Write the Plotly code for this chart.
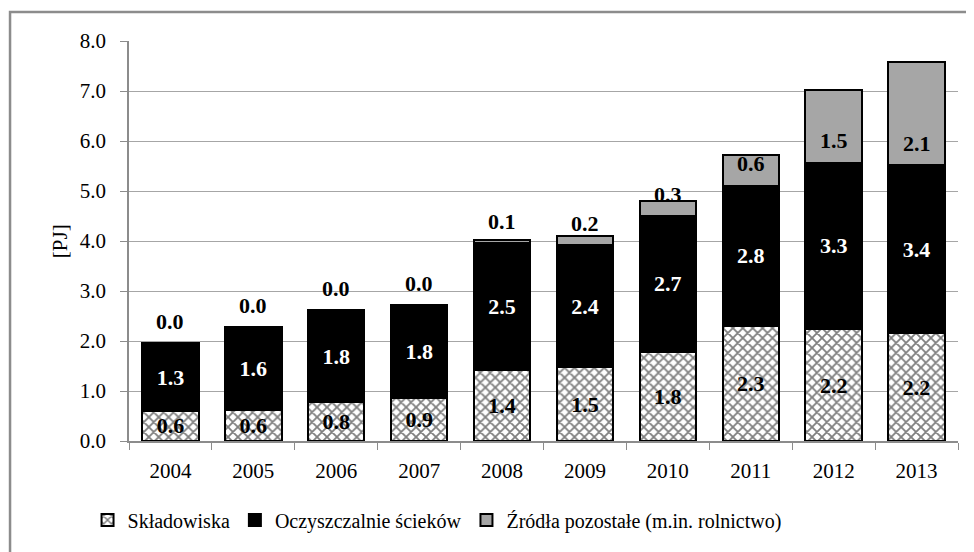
import plotly.graph_objects as go

years = ["2004", "2005", "2006", "2007", "2008", "2009", "2010", "2011", "2012", "2013"]
skladowiska = [0.61, 0.63, 0.78, 0.87, 1.42, 1.48, 1.79, 2.31, 2.24, 2.16]
oczyszczalnie = [1.34, 1.64, 1.83, 1.84, 2.54, 2.44, 2.71, 2.80, 3.33, 3.36]
zrodla = [0.02, 0.01, 0.01, 0.01, 0.06, 0.19, 0.30, 0.61, 1.46, 2.06]
names = ["Składowiska", "Oczyszczalnie ścieków", "Źródła pozostałe (m.in. rolnictwo)"]
y_ticks = [0, 1, 2, 3, 4, 5, 6, 7, 8]

FONT = "Liberation Serif"
LBL = 22

fig = go.Figure()
fig.add_trace(go.Bar(
    x=years, y=skladowiska, name=names[0],
    marker=dict(color="white", line=dict(color="black", width=2),
                pattern=dict(shape="x", fgcolor="black", bgcolor="white", size=7, solidity=0.45)),
    text=[f"{v:.1f}" for v in skladowiska], textposition="inside", insidetextanchor="middle",
    textfont=dict(family=FONT, size=LBL, color="black", weight="bold"),
    constraintext="none",
))
fig.add_trace(go.Bar(
    x=years, y=oczyszczalnie, name=names[1],
    marker=dict(color="black", line=dict(color="black", width=2)),
    text=[f"{v:.1f}" for v in oczyszczalnie], textposition="inside", insidetextanchor="middle",
    textfont=dict(family=FONT, size=LBL, color="white", weight="bold"),
    constraintext="none",
))
fig.add_trace(go.Bar(
    x=years, y=zrodla, name=names[2],
    marker=dict(color="#a6a6a6", line=dict(color="black", width=2)),
))

# labels of the top segment: placed just above the segment's base (as in the original)
for i in range(len(years)):
    base = skladowiska[i] + oczyszczalnie[i]
    fig.add_annotation(x=i, y=base, yref="y", xref="x", text=f"{zrodla[i]:.1f}",
                       showarrow=False, yanchor="middle", yshift=22,
                       font=dict(family=FONT, size=LBL, color="black", weight="bold"))

# y axis title
fig.add_annotation(x=-0.083, y=0.5, xref="paper", yref="paper", text="[PJ]", textangle=-90,
                   xanchor="center", yanchor="middle",
                   showarrow=False, font=dict(family=FONT, size=21, color="black"))

# outer frame
fig.add_shape(type="rect", xref="paper", yref="paper", x0=-0.1435, y0=-0.3, x1=1.05, y1=1.0725,
              line=dict(color="#8c8c8c", width=2.5), fillcolor="rgba(0,0,0,0)", layer="below")

fig.update_layout(
    width=974, height=552,
    margin=dict(l=121, r=24, t=33, b=119),
    barmode="stack", bargap=0.32,
    plot_bgcolor="white", paper_bgcolor="white",
    font=dict(family=FONT, size=20, color="black"),
    showlegend=True,
    legend=dict(orientation="h", x=-0.05, xanchor="left", y=-0.1975, yanchor="middle",
                traceorder="normal", font=dict(family=FONT, size=20, color="black"),
                bgcolor="rgba(0,0,0,0)"),
    xaxis=dict(type="category", range=[-0.5, len(years) - 0.5], showline=True,
               linecolor="#8c8c8c", linewidth=1.5, ticks="outside",
               tickson="boundaries", ticklen=7, tickcolor="#8c8c8c", showgrid=False,
               tickangle=0, ticklabelstandoff=10,
               tickfont=dict(family=FONT, size=21, color="black")),
    yaxis=dict(range=[0, 8], tickvals=y_ticks, tickformat=".1f", showline=True,
               linecolor="#8c8c8c", linewidth=1.5, ticks="outside", ticklen=7,
               tickcolor="#8c8c8c", showgrid=True, gridcolor="#a6a6a6", gridwidth=1,
               ticklabelstandoff=10,
               tickfont=dict(family=FONT, size=21, color="black"), zeroline=False),
)

fig.write_html("out.html")
